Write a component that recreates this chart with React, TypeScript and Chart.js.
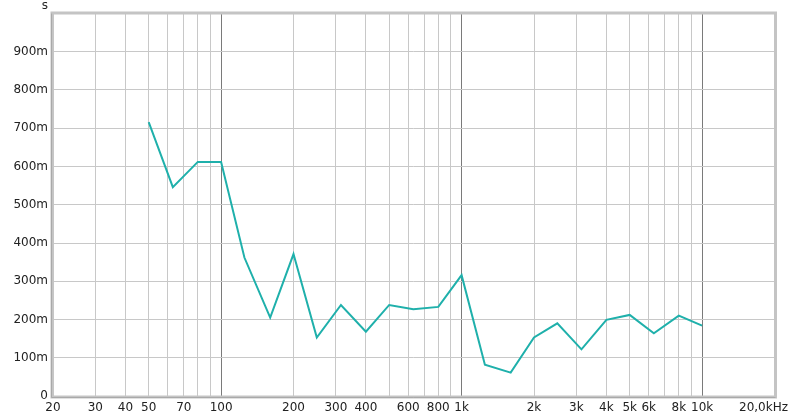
import React, { useEffect, useRef } from 'react';
import { Chart, registerables } from 'chart.js';

Chart.register(...registerables);

const freqs = [50, 63, 80, 100, 125, 160, 200, 250, 315, 400, 500, 630, 800, 1000, 1250, 1600, 2000, 2500, 3150, 4000, 5000, 6300, 8000, 10000];
const rt = [0.716, 0.546, 0.612, 0.612, 0.362, 0.205, 0.371, 0.153, 0.238, 0.168, 0.238, 0.227, 0.233, 0.316, 0.082, 0.061, 0.153, 0.190, 0.122, 0.199, 0.212, 0.164, 0.210, 0.184];

const gridFreqs = [
  20, 30, 40, 50, 60, 70, 80, 90,
  100, 200, 300, 400, 500, 600, 700, 800, 900,
  1000, 2000, 3000, 4000, 5000, 6000, 7000, 8000, 9000,
  10000, 20000,
];
const majorFreqs = [100, 1000, 10000];
const xLabelFreqs = [20, 30, 40, 50, 70, 100, 200, 300, 400, 600, 800, 1000, 2000, 3000, 4000, 5000, 6000, 8000, 10000, 20000];
const xLabelTexts = ['20', '30', '40', '50', '70', '100', '200', '300', '400', '600', '800', '1k', '2k', '3k', '4k', '5k', '6k', '8k', '10k', '20,0kHz'];
const yUnit = 's';

const FONT = '12px "DejaVu Sans", sans-serif';

export default function App() {
  const ref = useRef<HTMLCanvasElement | null>(null);

  useEffect(() => {
    document.body.style.margin = '0';
    const canvas = ref.current;
    if (!canvas) return;

    const overlay = {
      id: 'overlay',
      afterDraw(chart: any) {
        const { ctx, chartArea } = chart;
        const xs = chart.scales.x;
        const { left, right, top, bottom } = chartArea;
        ctx.save();
        // frame
        ctx.strokeStyle = '#c4c4c4';
        ctx.lineWidth = 3;
        ctx.strokeRect(left - 1, top - 0.5, right - left + 2, bottom - top + 1.5);
        ctx.strokeStyle = '#a9a9a9';
        ctx.lineWidth = 1;
        ctx.beginPath();
        ctx.moveTo(left - 1.5, top);
        ctx.lineTo(left - 1.5, bottom + 1.5);
        ctx.lineTo(right + 1, bottom + 1.5);
        ctx.stroke();
        // x labels
        ctx.font = FONT;
        ctx.fillStyle = '#222';
        ctx.textBaseline = 'alphabetic';
        ctx.textAlign = 'left';
        xLabelFreqs.forEach((f, i) => {
          const x = xs.getPixelForValue(f);
          const t = xLabelTexts[i];
          const w = ctx.measureText(t).width;
          const lx = Math.min(x - w / 2, chart.width - 12 - w);
          ctx.fillText(t, lx, 410.5);
        });
        // unit
        ctx.textAlign = 'center';
        ctx.fillText(yUnit, left - 8, 8.5);
        ctx.restore();
      },
    };

    const chart = new Chart(canvas, {
      type: 'line',
      data: {
        datasets: [
          {
            data: freqs.map((f, i) => ({ x: f, y: rt[i] })),
            borderColor: '#1fb0ab',
            borderWidth: 2,
            pointRadius: 0,
            tension: 0,
            fill: false,
          },
        ],
      },
      options: {
        responsive: false,
        animation: false,
        events: [],
        layout: { padding: { top: 13.5, right: 25.5, left: 0, bottom: 0 } },
        plugins: { legend: { display: false }, tooltip: { enabled: false } },
        scales: {
          x: {
            type: 'logarithmic',
            min: 20,
            max: 20000,
            border: { display: false },
            afterBuildTicks: (scale: any) => {
              scale.ticks = gridFreqs.map((v) => ({ value: v }));
            },
            afterFit: (scale: any) => {
              scale.height = 20;
            },
            ticks: { display: false },
            grid: {
              drawTicks: false,
              lineWidth: 1,
              color: (c: any) => (c.tick && majorFreqs.includes(c.tick.value) ? '#7a7a7a' : '#c8c8c8'),
            },
          },
          y: {
            type: 'linear',
            min: 0,
            max: 1,
            border: { display: false },
            afterFit: (scale: any) => {
              scale.width = 53;
            },
            ticks: {
              stepSize: 0.1,
              padding: 5,
              color: '#222',
              font: { family: '"DejaVu Sans", sans-serif', size: 12 },
              callback: (v: any) => {
                const n = Math.round(Number(v) * 1000);
                if (n === 0) return '0';
                if (n >= 1000) return '';
                return n + 'm';
              },
            },
            grid: { drawTicks: false, color: '#c8c8c8', lineWidth: 1 },
          },
        },
      },
      plugins: [overlay],
    });

    return () => chart.destroy();
  }, []);

  return (
    <div style={{ position: 'absolute', left: 0, top: 0, width: 800, height: 416, background: '#fff' }}>
      <canvas ref={ref} width={800} height={416} style={{ display: 'block', width: 800, height: 416 }} />
    </div>
  );
}
